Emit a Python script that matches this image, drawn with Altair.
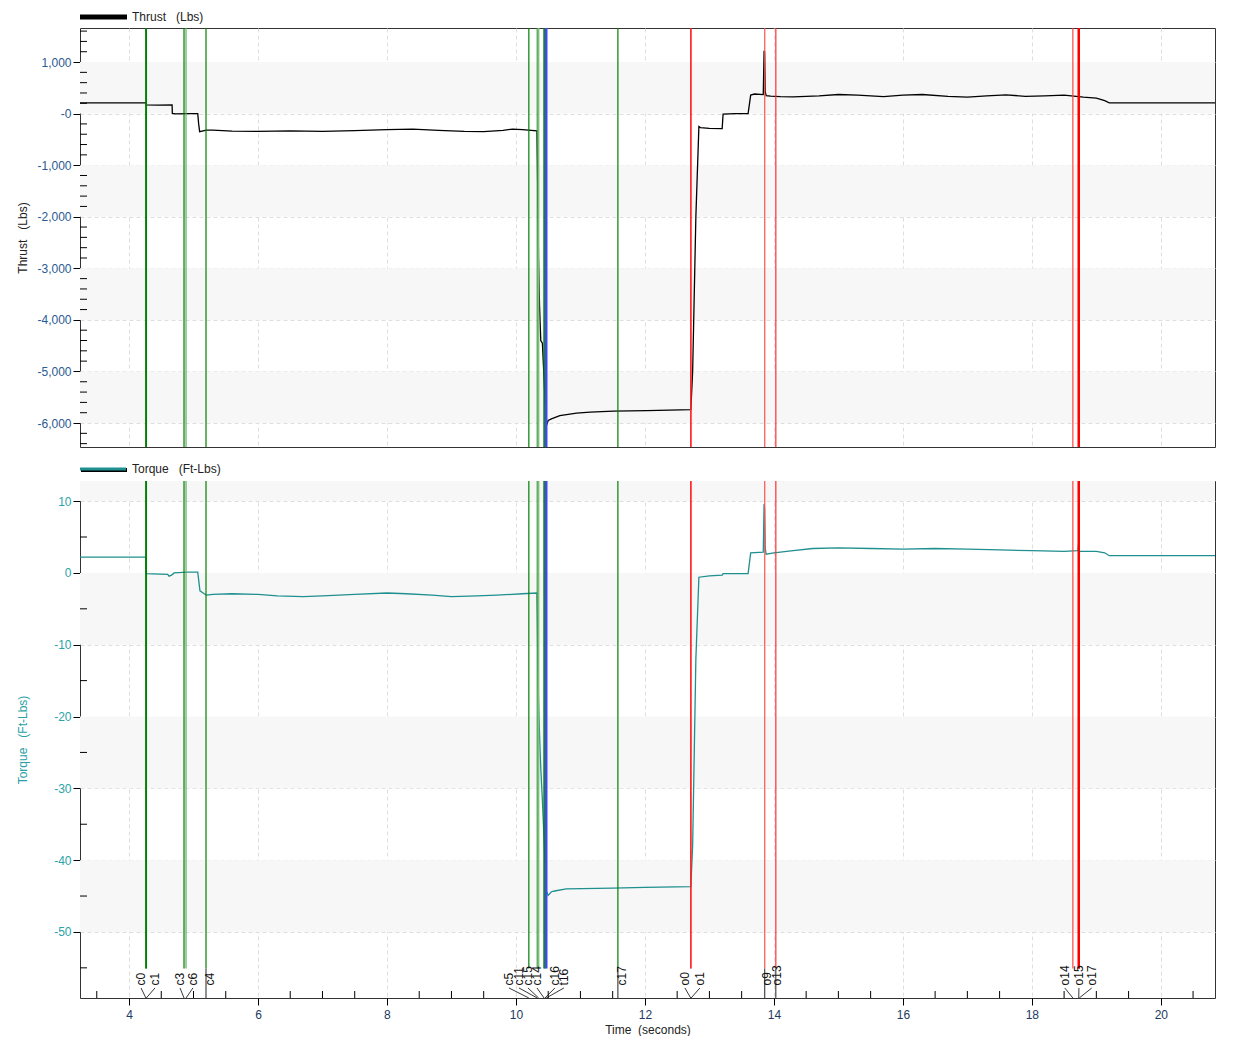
import altair as alt
import pandas as pd

# ---------------- data ----------------
X_DOMAIN = [3.24, 20.84]
THRUST_DOMAIN = [-6465, 1660]
TORQUE_DOMAIN = [-59.2, 12.8]

x_major = [4, 6, 8, 10, 12, 14, 16, 18, 20]
thrust_major = [1000, 0, -1000, -2000, -3000, -4000, -5000, -6000]
torque_major = [10, 0, -10, -20, -30, -40, -50]

thrust_bands = [(0, 1000), (-2000, -1000), (-4000, -3000), (-6000, -5000)]
torque_bands = [(10, 12.8), (-10, 0), (-30, -20), (-50, -40)]

thrust_points = [
    (3.24, 210), (4.262, 210), (4.266, 170), (4.45, 165), (4.668, 170), (4.672, 5),
    (4.72, -5), (4.90, 0), (5.066, 0), (5.080, -200), (5.095, -350), (5.20, -320),
    (5.30, -320), (5.60, -340), (6.00, -345), (6.50, -335), (7.00, -345), (7.50, -330),
    (8.00, -310), (8.40, -300), (8.80, -325), (9.20, -345), (9.50, -350), (9.80, -325),
    (9.95, -300), (10.10, -310), (10.325, -335), (10.332, -900), (10.340, -1700),
    (10.350, -2800), (10.365, -3700), (10.385, -4400), (10.41, -4450), (10.455, -5650),
    (10.470, -6060), (10.50, -5950), (10.55, -5920), (10.68, -5855), (10.94, -5810),
    (11.15, -5790), (11.51, -5770), (12.03, -5760), (12.55, -5745), (12.712, -5740),
    (12.74, -5000), (12.79, -2000), (12.837, -250), (12.86, -270), (13.00, -285),
    (13.198, -290), (13.212, -10), (13.40, 0), (13.600, 0), (13.640, 360), (13.70, 380),
    (13.835, 370), (13.848, 1220), (13.856, 1200), (13.866, 420), (13.880, 350),
    (13.95, 340), (14.10, 330), (14.30, 325), (14.70, 345), (15.00, 370), (15.30, 360),
    (15.70, 330), (16.00, 360), (16.30, 370), (16.70, 335), (17.00, 320), (17.30, 345),
    (17.60, 365), (17.90, 335), (18.20, 345), (18.50, 360), (18.80, 320), (19.00, 300),
    (19.13, 250), (19.20, 210), (20.84, 210),
]

torque_points = [
    (3.24, 2.2), (4.262, 2.2), (4.266, -0.1), (4.60, -0.2), (4.62, -0.45), (4.66, -0.3),
    (4.70, 0.0), (4.90, 0.1), (5.066, 0.1), (5.10, -2.5), (5.20, -3.1), (5.30, -3.0),
    (5.60, -2.9), (6.00, -3.0), (6.30, -3.2), (6.70, -3.3), (7.00, -3.2), (7.50, -3.0),
    (8.00, -2.8), (8.30, -2.9), (8.70, -3.1), (9.00, -3.3), (9.40, -3.2), (9.70, -3.1),
    (10.10, -2.9), (10.325, -2.8), (10.332, -6.6), (10.340, -12.6), (10.350, -17.7),
    (10.365, -22.3), (10.385, -27.2), (10.41, -31.7), (10.455, -41.0), (10.465, -44.2),
    (10.50, -44.9), (10.55, -44.4), (10.60, -44.3), (10.78, -44.0), (11.50, -43.9),
    (12.00, -43.8), (12.712, -43.7), (12.74, -38.0), (12.79, -12.0), (12.837, -0.6),
    (13.00, -0.4), (13.198, -0.3), (13.212, -0.1), (13.600, -0.1), (13.640, 2.8),
    (13.835, 2.9), (13.848, 9.6), (13.856, 9.0), (13.866, 3.4), (13.880, 2.6),
    (14.00, 2.8), (14.30, 3.1), (14.60, 3.4), (15.00, 3.5), (15.50, 3.4), (16.00, 3.3),
    (16.50, 3.4), (17.00, 3.3), (17.50, 3.2), (18.00, 3.1), (18.50, 3.0), (18.715, 3.1),
    (18.725, 4.2), (18.740, 3.0), (19.00, 3.0), (19.13, 2.8), (19.20, 2.4), (20.84, 2.4),
]

cursor_names = ["c0", "c1", "c3", "c6", "c4", "c5", "c11", "c15", "c14", "c16", "t16",
                "c17", "o0", "o1", "o9", "o13", "o14", "o15", "o17"]
cursor_times = [4.262, 4.268, 4.853, 4.884, 5.194, 10.200, 10.330, 10.352, 10.436, 10.450,
                10.470, 11.581, 12.710, 12.716, 13.858, 14.030, 18.636, 18.727, 18.735]
label_times = [4.186, 4.403, 4.791, 4.992, 5.255, 9.891, 10.047, 10.186, 10.326, 10.605,
               10.744, 11.640, 12.620, 12.853, 13.890, 14.050, 18.510, 18.730, 18.930]
cursor_colors = ["#008000", "#008000", "#007a00", "#5fb05f", "#008000", "#008000",
                 "#3d9e3d", "#7cc07c", "#008000", "#008000", "#4444ff", "#008000",
                 "#ff2020", "#ff2020", "#ff5050", "#ff3030", "#ff4040", "#ff0000", "#ff0000"]
cursor_widths = [1.5, 1.5, 1.2, 1.2, 1.2, 1.2, 1.2, 1.5, 1.5, 1.2, 2.5, 1.2,
                 1.2, 1.0, 1.2, 1.2, 1.2, 2.5, 1.5]
direct_label = [False, False, False, False, True, False, False, False, False, False, False,
                True, False, False, True, True, False, False, False]

# ---------------- frames ----------------
W = 1135
H_TOP = 419
H_BOT = 517

thrust_df = pd.DataFrame(thrust_points, columns=["t", "v"])
torque_df = pd.DataFrame(torque_points, columns=["t", "v"])
tb_df = pd.DataFrame([{"lo": a, "hi": b} for a, b in thrust_bands])
qb_df = pd.DataFrame([{"lo": a, "hi": b} for a, b in torque_bands])

cur_df = pd.DataFrame({
    "name": cursor_names, "t": cursor_times, "lt": label_times,
    "color": cursor_colors, "w": cursor_widths, "direct": direct_label,
})
cur_df["ytop"] = TORQUE_DOMAIN[1]
cur_df["ycut"] = -55.1
cur_df["ylab"] = -57.45
cur_df["ylead"] = -57.8
cur_df["ybot"] = TORQUE_DOMAIN[0]
lead_df = cur_df[~cur_df["direct"]]
direct_df = cur_df[cur_df["direct"]]

x_minor = [v / 2 for v in range(7, 42) if (v / 2) not in x_major]
thrust_minor = [v for v in range(-6400, 1700, 200) if v % 1000 != 0]
torque_minor = [v for v in range(-55, 13, 5) if v % 10 != 0]

one = pd.DataFrame({"a": [0]})

FONT = "Liberation Sans"
GRID = dict(grid=True, gridColor="#dedede", gridDash=[4, 3], gridWidth=1)

xscale = alt.Scale(domain=X_DOMAIN, nice=False, zero=False)
ts = alt.Scale(domain=THRUST_DOMAIN, nice=False, zero=False)
qs = alt.Scale(domain=TORQUE_DOMAIN, nice=False, zero=False)

x_axis_top = alt.Axis(values=x_major, labels=False, ticks=False, domain=False, title=None, **GRID)
x_axis_bot = alt.Axis(values=x_major, title="Time\u00a0\u00a0(seconds)", labelColor="#223a60",
                      labelFontSize=12, labelPadding=4, tickSize=7, titlePadding=4,
                      titleFontSize=12, titleFontWeight="normal", titleColor="#222",
                      domain=False, **GRID)

y_axis_top = alt.Axis(values=thrust_major, title="Thrust\u00a0\u00a0\u00a0(Lbs)",
                      labelExpr="datum.value == 0 ? '-0' : replace(format(datum.value, ','), '\u2212', '-')",
                      labelColor="#2a5b92", labelFontSize=12, tickSize=7, labelPadding=2,
                      titleX=-58, titleY=H_TOP / 2, titleAngle=270, titleAlign="center",
                      titleBaseline="middle", titleColor="#222", titleFontSize=12,
                      titleFontWeight="normal", domain=False, **GRID)
y_axis_bot = alt.Axis(values=torque_major, title="Torque\u00a0\u00a0\u00a0(Ft-Lbs)",
                      labelExpr="replace(format(datum.value, 'd'), '\u2212', '-')",
                      labelColor="#2aa3aa", labelFontSize=12, tickSize=7, labelPadding=2,
                      titleX=-58, titleY=H_BOT / 2, titleAngle=270, titleAlign="center",
                      titleBaseline="middle", titleColor="#2a9fa5", titleFontSize=12,
                      titleFontWeight="normal", domain=False, **GRID)


def X(field, axis):
    return alt.X(field, type="quantitative", scale=xscale, axis=axis)


def Y(field, scale, axis):
    return alt.Y(field, type="quantitative", scale=scale, axis=axis)


# ---------------- top panel: thrust ----------------
t_bands = alt.Chart(tb_df).mark_rect(color="#f7f7f7").encode(
    x=alt.value(0), x2=alt.value(W), y=Y("hi", ts, y_axis_top), y2="lo:Q")
t_xgrid = alt.Chart(pd.DataFrame({"t": x_major})).mark_rule(opacity=0).encode(
    x=X("t", x_axis_top))
t_line = alt.Chart(thrust_df).mark_line(color="#000000", strokeWidth=1.3, interpolate="linear").encode(
    x=X("t", x_axis_top), y=Y("v", ts, y_axis_top), order="t:Q")
t_cursors = alt.Chart(cur_df).mark_rule().encode(
    x=X("t", x_axis_top),
    color=alt.Color("color:N", scale=None),
    strokeWidth=alt.StrokeWidth("w:Q", scale=None))
t_minor = alt.Chart(pd.DataFrame({"v": thrust_minor})).mark_rule(color="#000", strokeWidth=1).encode(
    y=Y("v", ts, y_axis_top), x=alt.value(0), x2=alt.value(7))
t_sw = alt.Chart(one).mark_rule(color="#000", strokeWidth=5).encode(
    x=alt.value(0), x2=alt.value(47), y=alt.value(-11))
t_leg = alt.Chart(one).mark_text(align="left", baseline="middle", fontSize=12, font=FONT,
                                 color="#222").encode(
    x=alt.value(52), y=alt.value(-11), text=alt.value("Thrust\u00a0\u00a0\u00a0(Lbs)"))

top = alt.layer(t_bands, t_xgrid, t_line, t_cursors, t_minor, t_sw, t_leg).properties(
    width=W, height=H_TOP)

# ---------------- bottom panel: torque ----------------
q_bands = alt.Chart(qb_df).mark_rect(color="#f7f7f7").encode(
    x=alt.value(0), x2=alt.value(W), y=Y("hi", qs, y_axis_bot), y2="lo:Q")
q_xgrid = alt.Chart(pd.DataFrame({"t": x_major})).mark_rule(opacity=0).encode(
    x=X("t", x_axis_bot))
q_line = alt.Chart(torque_df).mark_line(color="#1f8f8f", strokeWidth=1.3).encode(
    x=X("t", x_axis_bot), y=Y("v", qs, y_axis_bot), order="t:Q")
q_cursors = alt.Chart(cur_df).mark_rule().encode(
    x=X("t", x_axis_bot), y=Y("ytop", qs, y_axis_bot), y2="ycut:Q",
    color=alt.Color("color:N", scale=None),
    strokeWidth=alt.StrokeWidth("w:Q", scale=None))
q_direct = alt.Chart(direct_df).mark_rule(color="#222", strokeWidth=1).encode(
    x=X("t", x_axis_bot), y=Y("ycut", qs, y_axis_bot), y2="ybot:Q")
q_leads = alt.Chart(lead_df).mark_rule(color="#222", strokeWidth=0.9).encode(
    x=X("lt", x_axis_bot), x2="t:Q", y=Y("ylead", qs, y_axis_bot), y2="ybot:Q")
q_labels = alt.Chart(cur_df).mark_text(angle=270, align="left", baseline="middle",
                                       fontSize=12, font=FONT, color="#111").encode(
    x=X("lt", x_axis_bot), y=Y("ylab", qs, y_axis_bot), text="name:N")
q_xminor = alt.Chart(pd.DataFrame({"t": x_minor})).mark_rule(color="#000", strokeWidth=1).encode(
    x=X("t", x_axis_bot), y=alt.value(H_BOT), y2=alt.value(H_BOT - 7))
q_yminor = alt.Chart(pd.DataFrame({"v": torque_minor})).mark_rule(color="#000", strokeWidth=1).encode(
    y=Y("v", qs, y_axis_bot), x=alt.value(0), x2=alt.value(7))
q_sw0 = alt.Chart(one).mark_rule(color="#000", strokeWidth=4).encode(
    x=alt.value(1), x2=alt.value(47), y=alt.value(-11))
q_sw1 = alt.Chart(one).mark_rule(color="#1f8f8f", strokeWidth=3).encode(
    x=alt.value(0), x2=alt.value(46), y=alt.value(-12))
q_leg = alt.Chart(one).mark_text(align="left", baseline="middle", fontSize=12, font=FONT,
                                 color="#222").encode(
    x=alt.value(52), y=alt.value(-12), text=alt.value("Torque\u00a0\u00a0\u00a0(Ft-Lbs)"))

bottom = alt.layer(q_bands, q_xgrid, q_line, q_cursors, q_direct, q_leads, q_labels,
                   q_xminor, q_yminor, q_sw0, q_sw1, q_leg).properties(width=W, height=H_BOT)

chart = alt.vconcat(top, bottom, spacing=34, bounds="flush").properties(
    padding={"left": 7, "top": 2, "right": 5, "bottom": 0}
).configure(font=FONT).configure_view(stroke="#333", strokeWidth=1).configure_axis(
    labelFont=FONT, titleFont=FONT, tickColor="#000", tickWidth=1
)

chart.save("out.html", embed_options={"renderer": "svg", "actions": False})
